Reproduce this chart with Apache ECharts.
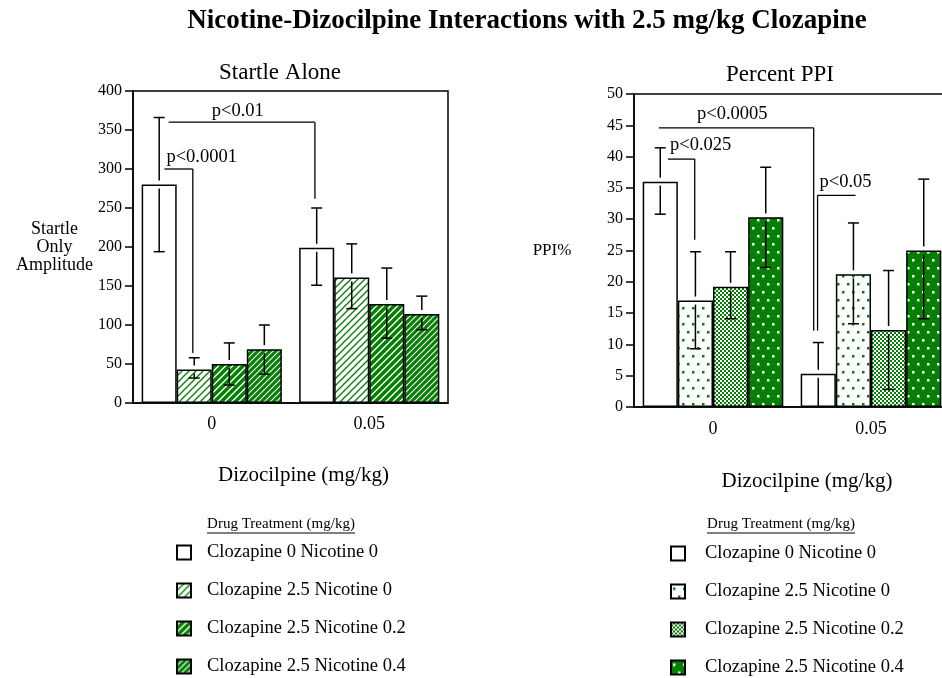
<!DOCTYPE html>
<html><head><meta charset="utf-8">
<script src="https://cdn.jsdelivr.net/npm/echarts@6/dist/echarts.min.js"></script>
<style>html,body{margin:0;padding:0;background:#fff}#c{width:942px;height:678px}</style>
</head><body><div id="c"></div>
<script>
// ---------- data ----------
const categories = ['0', '0.05'];
const seriesNames = ['Clozapine 0 Nicotine 0', 'Clozapine 2.5 Nicotine 0', 'Clozapine 2.5 Nicotine 0.2', 'Clozapine 2.5 Nicotine 0.4'];
const startleTicks = [0, 50, 100, 150, 200, 250, 300, 350, 400];
const ppiTicks = [0, 5, 10, 15, 20, 25, 30, 35, 40, 45, 50];
// Startle alone: [dizocilpine 0, dizocilpine 0.05] per treatment
const startleMeans = [[280, 199], [43, 161], [50, 127], [69, 114]];
const startleUpper = [[366, 250], [58, 204], [77, 173], [100, 137]];
const startleLower = [[194, 151], [32, 121], [23, 83], [37, 94]];
// Percent PPI
const ppiMeans = [[36, 5.3], [17, 21.2], [19.2, 12.3], [30.3, 25]];
const ppiUpper = [[41.4, 10.3], [24.8, 29.4], [24.8, 21.8], [38.3, 36.4]];
const ppiLower = [[30.8, 0], [9.3, 13.3], [14.1, 2.8], [22.3, 14.1]];
// brackets: [fromCat, fromBar, fromOffset, toCat, toBar, toOffset, level, dropTo, dropAtEnd]
const startleBrackets = [[0, 0, 0.27, 1, 0, -0.05, 360, 262, 1], [0, 0, 0.15, 0, 1, -0.04, 300, 64, 1]];
const startleBracketLabels = ['p<0.01', 'p<0.0001'];
const startleLabelAlign = ['center', 'left'];
const ppiBrackets = [[0, 0, -0.04, 1, 0, -0.13, 44.6, 12.2, 1], [0, 0, 0.22, 0, 1, -0.02, 39.6, 26.7, 1], [1, 0, -0.02, 1, 1, 0.06, 33.8, 12.2, 0]];
const ppiBracketLabels = ['p<0.0005', 'p<0.025', 'p<0.05'];
const ppiLabelAlign = ['center', 'left', 'left'];

// ---------- styles ----------
const GREEN = '#058005';
const FONT = '"Liberation Serif", "Times New Roman", serif';
const GAP = 0.11;

function tile(w, h, draw) {
  const c = document.createElement('canvas'); c.width = w; c.height = h;
  const g = c.getContext('2d'); draw(g, w, h); return {image: c, repeat: 'repeat'};
}
function hatch(bg, fg, lw, s) {
  return tile(s, s, (g) => {
    g.fillStyle = bg; g.fillRect(0, 0, s, s);
    g.strokeStyle = fg; g.lineWidth = lw; g.lineCap = 'square';
    for (const o of [-s, 0, s]) { g.beginPath(); g.moveTo(o, s); g.lineTo(o + s, 0); g.stroke(); }
  });
}
function dots(bg, fg) {
  return tile(10, 16, (g) => {
    g.fillStyle = bg; g.fillRect(0, 0, 10, 16);
    g.fillStyle = fg; g.fillRect(2, 3, 2.5, 2.5); g.fillRect(7, 11, 2.5, 2.5);
  });
}
const checker = tile(4, 4, (g) => {
  g.fillStyle = GREEN; g.fillRect(0, 0, 4, 4);
  g.fillStyle = '#fff'; g.fillRect(0, 0, 2, 2); g.fillRect(2, 2, 2, 2);
});
const startleFills = ['#ffffff', hatch('#fff', GREEN, 1.3, 7), hatch('#fff', GREEN, 3.6, 7), hatch(GREEN, '#fff', 1.1, 6)];
const ppiFills = ['#ffffff', dots('#fff', GREEN), checker, dots(GREEN, '#fff')];

function errData(means, up, lo) {
  const d = [];
  means.forEach((m, bi) => m.forEach((v, ci) => d.push([ci, bi, up[bi][ci], lo[bi][ci], v])));
  return d;
}
function errRender(params, api) {
  const cat = api.value(0), bi = api.value(1), hi = api.value(2), lo = api.value(3), m = api.value(4);
  const band = api.size([1, 0])[0];
  const bw = band * (1 - GAP) / 4;
  const cx = api.coord([cat, 0])[0] + (bi - 1.5) * bw;
  const yH = api.coord([cat, hi])[1], yL = api.coord([cat, Math.max(lo, 0)])[1], yM = api.coord([cat, m])[1];
  const st = {stroke: '#000', lineWidth: 1.5};
  const ch = [
    {type: 'line', shape: {x1: cx, y1: yH, x2: cx, y2: yM - 4}, style: st},
    {type: 'line', shape: {x1: cx - 5.5, y1: yH, x2: cx + 5.5, y2: yH}, style: st},
    {type: 'line', shape: {x1: cx, y1: yM + 4, x2: cx, y2: yL}, style: st}
  ];
  if (lo > 0) ch.push({type: 'line', shape: {x1: cx - 5.5, y1: yL, x2: cx + 5.5, y2: yL}, style: st});
  return {type: 'group', children: ch};
}
function bracketRender(labels, aligns, lift) {
  return function (params, api) {
    const i = params.dataIndex;
    const band = api.size([1, 0])[0];
    const bw = band * (1 - GAP) / 4;
    const px = (c, b, o) => api.coord([c, 0])[0] + (b - 1.5 + o) * bw;
    const x1 = px(api.value(0), api.value(1), api.value(2));
    const x2 = px(api.value(3), api.value(4), api.value(5));
    const y = api.coord([0, api.value(6)])[1];
    const yd = api.coord([0, api.value(7)])[1];
    const xd = api.value(8) ? x2 : x1;
    const st = {stroke: '#000', lineWidth: 1.3};
    const al = aligns[i];
    return {type: 'group', children: [
      {type: 'line', shape: {x1: x1, y1: y, x2: x2, y2: y}, style: st},
      {type: 'line', shape: {x1: xd, y1: y, x2: xd, y2: yd}, style: st},
      {type: 'text', style: {text: labels[i], x: al === 'center' ? (x1 + x2) / 2 - 4 : x1 + 2, y: y - lift,
        align: al, verticalAlign: 'bottom', font: '18.5px ' + FONT, fill: '#000'}}
    ]};
  };
}
function bracketData(b) { return b.map(r => r.slice()); }

const barStyle = {borderColor: '#000', borderWidth: 1.5};
const series = [];
seriesNames.forEach((n, i) => {
  series.push({type: 'bar', name: n, xAxisIndex: 0, yAxisIndex: 0, data: startleMeans[i],
    barGap: '0%', barCategoryGap: (GAP * 100) + '%', itemStyle: Object.assign({color: startleFills[i]}, barStyle), silent: true, animation: false});
});
seriesNames.forEach((n, i) => {
  series.push({type: 'bar', name: n + ' ', xAxisIndex: 1, yAxisIndex: 1, data: ppiMeans[i],
    barGap: '0%', barCategoryGap: (GAP * 100) + '%', itemStyle: Object.assign({color: ppiFills[i]}, barStyle), silent: true, animation: false});
});
series.push({type: 'custom', xAxisIndex: 0, yAxisIndex: 0, renderItem: errRender, data: errData(startleMeans, startleUpper, startleLower), encode: {x: 0, y: [2, 3]}, z: 5, silent: true, animation: false});
series.push({type: 'custom', xAxisIndex: 1, yAxisIndex: 1, renderItem: errRender, data: errData(ppiMeans, ppiUpper, ppiLower), encode: {x: 0, y: [2, 3]}, z: 5, silent: true, animation: false});
series.push({type: 'custom', xAxisIndex: 0, yAxisIndex: 0, renderItem: bracketRender(startleBracketLabels, startleLabelAlign, 2), data: bracketData(startleBrackets), encode: {x: 0, y: 6}, z: 6, silent: true, animation: false, clip: false});
series.push({type: 'custom', xAxisIndex: 1, yAxisIndex: 1, renderItem: bracketRender(ppiBracketLabels, ppiLabelAlign, 4), data: bracketData(ppiBrackets), encode: {x: 0, y: 6}, z: 6, silent: true, animation: false, clip: false});

function xAxis(gi, gap, shift, margin) {
  return {type: 'category', gridIndex: gi, data: categories,
    name: 'Dizocilpine (mg/kg)', nameLocation: 'middle', nameGap: gap,
    nameTextStyle: {fontFamily: FONT, fontSize: 21, color: '#000', padding: [0, 0, 0, shift * 2]},
    axisLine: {lineStyle: {color: '#000', width: 1.5}},
    axisTick: {alignWithLabel: true, length: 7, lineStyle: {color: '#000', width: 1.5}},
    axisLabel: {fontFamily: FONT, fontSize: 18, color: '#000', margin: margin}};
}
function yAxis(gi, ticks, name, gap, fs) {
  return {type: 'value', gridIndex: gi, min: ticks[0], max: ticks[ticks.length - 1], interval: ticks[1] - ticks[0],
    name: name, nameLocation: 'middle', nameGap: gap, nameRotate: 0,
    nameTextStyle: {fontFamily: FONT, fontSize: fs, color: '#000', align: 'center', lineHeight: 18},
    splitLine: {show: false},
    axisLine: {show: true, lineStyle: {color: '#000', width: 1.5}},
    axisTick: {show: true, length: 8, lineStyle: {color: '#000', width: 1.5}},
    axisLabel: {fontFamily: FONT, fontSize: 16, color: '#000', margin: 11}};
}
function legend(left, top, suffix, pad) {
  return {orient: 'vertical', left: left, top: top, height: 200, padding: 0, itemWidth: 14, itemHeight: 14, itemGap: 19, icon: 'rect',
    selectedMode: false, data: seriesNames.map(n => n + suffix),
    formatter: (n) => n.trim(),
    itemStyle: {borderColor: '#000', borderWidth: 2},
    textStyle: {fontFamily: FONT, fontSize: 18.5, color: '#000', padding: [0, 0, 0, pad], lineHeight: 18}};
}
const chart = echarts.init(document.getElementById('c'), null, {renderer: 'canvas'});
chart.setOption({
  backgroundColor: '#fff',
  animation: false,
  title: [
    {text: 'Nicotine-Dizocilpine Interactions with 2.5 mg/kg Clozapine', left: 527, top: 8, textAlign: 'center', padding: 0,
      textStyle: {fontFamily: FONT, fontWeight: 'bold', fontSize: 27, color: '#000'}},
    {text: 'Startle Alone', left: 280, top: 61, textAlign: 'center', padding: 0, textStyle: {fontFamily: FONT, fontWeight: 'normal', fontSize: 23, color: '#000'}},
    {text: 'Percent PPI', left: 780, top: 63, textAlign: 'center', padding: 0, textStyle: {fontFamily: FONT, fontWeight: 'normal', fontSize: 23, color: '#000'}},
    {text: 'Drug Treatment (mg/kg)', left: 281, top: 517, textAlign: 'center', padding: 0, textStyle: {fontFamily: FONT, fontWeight: 'normal', fontSize: 15, color: '#000'}},
    {text: 'Drug Treatment (mg/kg)', left: 781, top: 517, textAlign: 'center', padding: 0, textStyle: {fontFamily: FONT, fontWeight: 'normal', fontSize: 15, color: '#000'}}
  ],
  graphic: [
    {type: 'line', shape: {x1: 207, y1: 533, x2: 355, y2: 533}, style: {stroke: '#000', lineWidth: 1}},
    {type: 'line', shape: {x1: 707, y1: 533, x2: 855, y2: 533}, style: {stroke: '#000', lineWidth: 1}}
  ],
  grid: [
    {left: 133, top: 91, width: 315, height: 312, outerBoundsMode: 'none', show: true, borderColor: '#000', borderWidth: 1.5, backgroundColor: 'transparent'},
    {left: 634, top: 94, width: 316, height: 313, outerBoundsMode: 'none', show: true, borderColor: '#000', borderWidth: 1.5, backgroundColor: 'transparent'}
  ],
  xAxis: [xAxis(0, 62, 13, 12), xAxis(1, 64, 15, 13)],
  yAxis: [yAxis(0, startleTicks, 'Startle\nOnly\nAmplitude', 78, 18), yAxis(1, ppiTicks, 'PPI%', 82, 17)],
  legend: [legend(176, 543, '', 11), legend(670, 544, ' ', 15)],
  series: series
});
</script></body></html>
